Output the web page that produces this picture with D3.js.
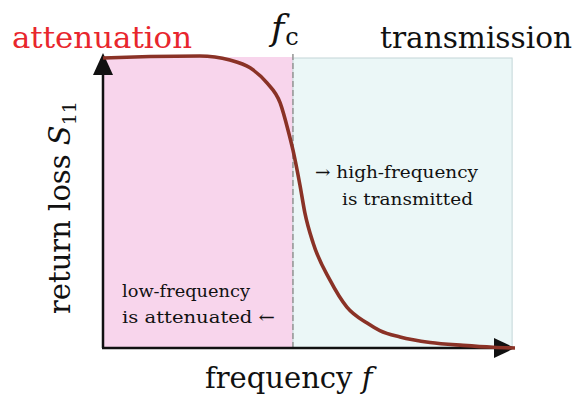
<!DOCTYPE html>
<html>
<head>
<meta charset="utf-8">
<script src="https://cdn.jsdelivr.net/npm/d3@7"></script>
<style>
  body { margin: 0; background: #fff; }
  text { font-family: "DejaVu Serif", serif; fill: #111; }
</style>
</head>
<body>
<svg width="574" height="403"></svg>
<script>
// normalised frequency (0..1) and return loss (0..1)
const freq = [0, 0.114, 0.235, 0.308, 0.357, 0.398, 0.430, 0.449, 0.461, 0.478, 0.490,
              0.510, 0.551, 0.592, 0.641, 0.672, 0.721, 0.794, 0.874, 0.947, 1.0];
const loss = [1.0, 1.005, 1.007, 0.993, 0.966, 0.914, 0.845, 0.752, 0.683, 0.562, 0.466,
              0.362, 0.234, 0.141, 0.086, 0.060, 0.038, 0.019, 0.009, 0.0025, 0.0];
const fc = 0.461;          // cutoff frequency
const bandEnd = 0.993;     // right edge of shaded region

const svg = d3.select("svg");

// plot box
const x = d3.scaleLinear().domain([0, 1]).range([103, 515]);
const y = d3.scaleLinear().domain([0, 1]).range([348, 58]);

// shaded regions
svg.append("rect")
  .attr("x", x(0)).attr("y", y(1) - 1)
  .attr("width", x(fc) - x(0)).attr("height", y(0) - y(1) + 1)
  .attr("fill", "#f8d5ec");
svg.append("rect")
  .attr("x", x(fc)).attr("y", y(1))
  .attr("width", x(bandEnd) - x(fc)).attr("height", y(0) - y(1))
  .attr("fill", "#ebf7f7")
  .attr("stroke", "#c4d6d8").attr("stroke-width", 1);

// cutoff line
svg.append("line")
  .attr("x1", x(fc)).attr("x2", x(fc))
  .attr("y1", 54).attr("y2", y(0))
  .attr("stroke", "#9a9a9a").attr("stroke-width", 1.6)
  .attr("stroke-dasharray", "6,3");

// axes with arrow heads
svg.append("line")
  .attr("x1", x(0)).attr("x2", x(0)).attr("y1", y(0)).attr("y2", 70)
  .attr("stroke", "#111").attr("stroke-width", 2.5);
svg.append("line")
  .attr("x1", x(0) - 1).attr("x2", 500).attr("y1", y(0)).attr("y2", y(0))
  .attr("stroke", "#111").attr("stroke-width", 2.5);
svg.append("path")
  .attr("d", "M" + x(0) + ",53 L" + (x(0) - 10) + ",75 L" + (x(0) + 10) + ",75 Z")
  .attr("fill", "#111");
svg.append("path")
  .attr("d", "M515," + y(0) + " L494," + (y(0) - 10) + " L494," + (y(0) + 10) + " Z")
  .attr("fill", "#111");

// return loss curve
const line = d3.line()
  .x(function(d, i) { return x(freq[i]); })
  .y(function(d) { return y(d); })
  .curve(d3.curveMonotoneX);
svg.append("path")
  .datum(loss)
  .attr("fill", "none")
  .attr("stroke", "#8a3226")
  .attr("stroke-width", 3.6)
  .attr("stroke-linecap", "butt")
  .attr("d", line);

// labels
svg.append("text")
  .attr("x", 12).attr("y", 48)
  .attr("font-size", 30).attr("textLength", 180).attr("lengthAdjust", "spacingAndGlyphs")
  .style("fill", "#e8262d")
  .text("attenuation");
svg.append("text")
  .attr("x", 380).attr("y", 48)
  .attr("font-size", 30).attr("textLength", 192).attr("lengthAdjust", "spacingAndGlyphs")
  .text("transmission");

const fcl = svg.append("text").attr("x", 271).attr("y", 40).attr("font-size", 36);
fcl.append("tspan").style("font-style", "italic").text("f");
fcl.append("tspan").attr("font-size", 24).attr("dy", 5).attr("dx", 1).text("c");

const xl = svg.append("text").attr("x", 205).attr("y", 388).attr("font-size", 29);
xl.append("tspan").text("frequency ");
xl.append("tspan").style("font-style", "italic").text("f");

const yl = svg.append("text")
  .attr("transform", "translate(70,314) rotate(-90)")
  .attr("font-size", 29);
yl.append("tspan").text("return loss ");
yl.append("tspan").style("font-style", "italic").text("S");
yl.append("tspan").attr("font-size", 19).attr("dy", 6).text("11");

svg.append("text").attr("x", 122).attr("y", 297).attr("font-size", 17)
  .attr("textLength", 128).attr("lengthAdjust", "spacingAndGlyphs")
  .text("low-frequency");
svg.append("text").attr("x", 122).attr("y", 323).attr("font-size", 17)
  .attr("textLength", 153).attr("lengthAdjust", "spacingAndGlyphs")
  .text("is attenuated \u2190");
svg.append("text").attr("x", 315).attr("y", 178).attr("font-size", 17)
  .attr("textLength", 163).attr("lengthAdjust", "spacingAndGlyphs")
  .text("\u2192 high-frequency");
svg.append("text").attr("x", 342).attr("y", 205).attr("font-size", 17)
  .attr("textLength", 131).attr("lengthAdjust", "spacingAndGlyphs")
  .text("is transmitted");
</script>
</body>
</html>
